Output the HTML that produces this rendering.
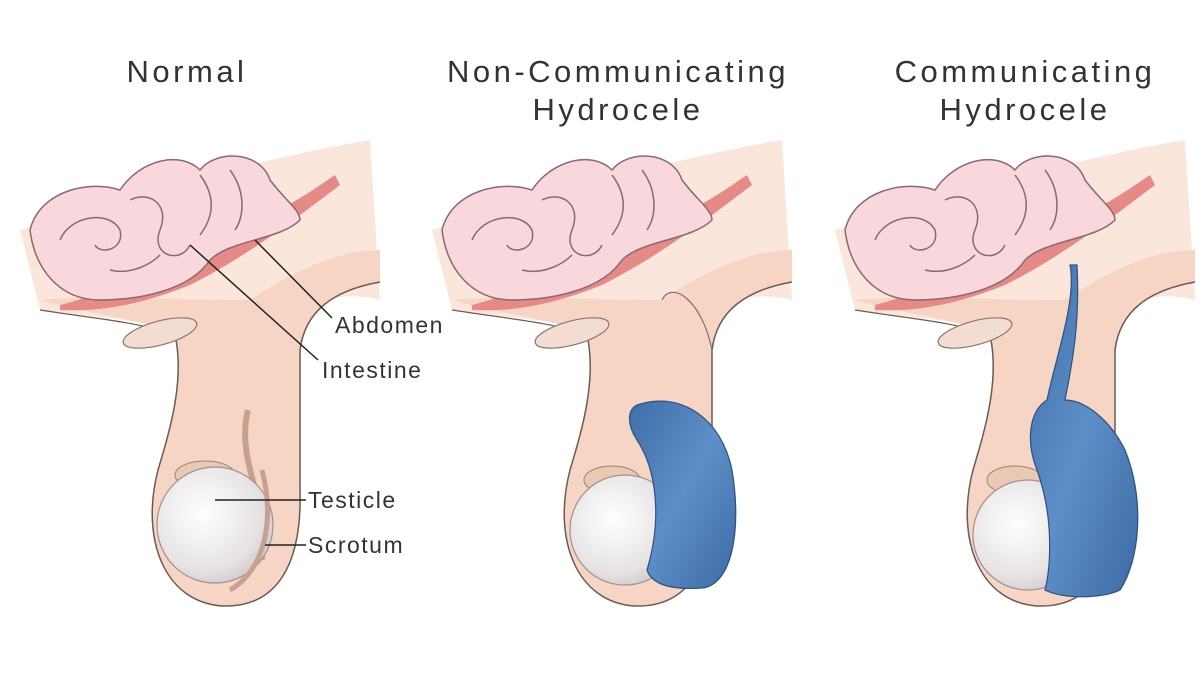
<!DOCTYPE html>
<html><head><meta charset="utf-8"><style>
html,body{margin:0;padding:0;background:#fff;}
svg{display:block;}
text{font-family:"Liberation Sans",sans-serif;fill:#333;}
.t{font-size:31px;letter-spacing:3.5px;}
.l{font-size:23px;letter-spacing:1.5px;}
</style></head><body>
<svg width="1200" height="688" viewBox="0 0 1200 688" xmlns="http://www.w3.org/2000/svg">
<defs>
<radialGradient id="tes" cx="0.4" cy="0.4" r="0.7"><stop offset="0" stop-color="#ffffff"/><stop offset="0.7" stop-color="#e6e2e4"/><stop offset="1" stop-color="#c9c3c6"/></radialGradient>
<linearGradient id="blue" x1="0" y1="0" x2="1" y2="1"><stop offset="0" stop-color="#3f6ea8"/><stop offset="0.5" stop-color="#5e8fc8"/><stop offset="1" stop-color="#3d6aa3"/></linearGradient>
<g id="base">
  <path d="M20,230 C120,200 250,160 370,140 L380,300 C340,290 300,300 290,340 L40,310 Z" fill="#fbe6dc"/>
  <path d="M40,300 C90,315 150,320 175,335 C185,380 170,430 158,470 C140,540 165,602 222,606 C280,608 302,560 300,490 L300,350 C305,310 335,290 380,282 L380,250 C330,250 280,280 250,300 C180,300 100,295 40,300 Z" fill="#f6d5c4"/>
  <path d="M175,335 C185,380 170,430 158,470 C140,540 165,602 222,606 C280,608 302,560 300,490 L300,350 C305,310 335,290 380,282" fill="none" stroke="#6b5a55" stroke-width="1.5"/>
  <path d="M40,310 C90,318 140,322 175,335" fill="none" stroke="#6b5a55" stroke-width="1.2"/>
  <path d="M60,305 C120,290 200,250 260,220 C300,200 320,185 335,175 L340,185 C300,215 250,255 190,285 C140,305 100,312 60,310 Z" fill="#e58a85"/>
  <g fill="#f8d8dc" stroke="#8a6a70" stroke-width="1.5">
    <path d="M30,230 C40,190 90,180 120,190 C140,160 180,150 200,170 C215,150 260,150 270,180 C285,200 300,210 300,220 C280,240 230,240 210,260 C190,290 140,300 100,300 C60,300 35,270 30,230 Z"/>
  </g>
  <g fill="none" stroke="#8a6a70" stroke-width="1.5">
    <path d="M60,240 C70,215 110,210 120,230 C125,250 100,255 95,245"/>
    <path d="M130,200 C150,190 170,205 160,230 C150,255 180,265 190,245"/>
    <path d="M200,175 C215,195 215,215 200,235"/>
    <path d="M230,170 C245,190 245,215 235,230"/>
    <path d="M110,270 C130,275 150,265 160,255"/>
  </g>
  <ellipse cx="160" cy="333" rx="38" ry="12" transform="rotate(-15 160 333)" fill="#f3dcd0" stroke="#8a7570" stroke-width="1.2"/>
</g>
</defs>

<text class="t" x="187" y="82" text-anchor="middle">Normal</text>
<text class="t" x="618" y="82" text-anchor="middle">Non-Communicating</text>
<text class="t" x="618" y="120" text-anchor="middle">Hydrocele</text>
<text class="t" x="1025" y="82" text-anchor="middle">Communicating</text>
<text class="t" x="1025" y="120" text-anchor="middle">Hydrocele</text>

<use href="#base"/>
<path d="M248,410 C240,440 250,470 258,500 L262,560" fill="none" stroke="#c8a090" stroke-width="6"/>
<ellipse cx="205" cy="475" rx="30" ry="14" fill="#e9c8b4" stroke="#a08070"/>
<circle cx="215" cy="525" r="58" fill="url(#tes)" stroke="#a09090" stroke-width="1.2"/>
<path d="M262,470 C275,520 265,570 230,590" fill="none" stroke="#c8a090" stroke-width="5"/>
<g stroke="#222" stroke-width="1.5">
<line x1="190" y1="245" x2="318" y2="360"/>
<line x1="255" y1="240" x2="332" y2="318"/>
<line x1="215" y1="500" x2="306" y2="500"/>
<line x1="265" y1="545" x2="306" y2="545"/>
</g>
<text class="l" x="335" y="333">Abdomen</text>
<text class="l" x="322" y="378">Intestine</text>
<text class="l" x="308" y="508">Testicle</text>
<text class="l" x="308" y="553">Scrotum</text>

<g transform="translate(412,0)">
<use href="#base"/>
<path d="M300,350 C290,300 260,280 250,300" fill="none" stroke="#8a6a70" stroke-width="1.2"/>
<ellipse cx="200" cy="480" rx="28" ry="14" fill="#e9c8b4" stroke="#a08070"/>
<circle cx="213" cy="530" r="55" fill="url(#tes)" stroke="#a09090" stroke-width="1.2"/>
<path d="M225,405 C270,390 310,420 320,470 C330,530 320,585 290,588 C260,590 240,585 235,570 C250,520 245,470 225,440 C215,425 215,410 225,405 Z" fill="url(#blue)" stroke="#2e5080" stroke-width="1.2"/>
</g>

<g transform="translate(815,0)">
<use href="#base"/>
<ellipse cx="200" cy="480" rx="28" ry="14" fill="#e9c8b4" stroke="#a08070"/>
<circle cx="213" cy="535" r="55" fill="url(#tes)" stroke="#a09090" stroke-width="1.2"/>
<path d="M255,265 C262,300 240,360 232,400 C215,410 210,440 222,470 C240,520 235,570 230,590 C250,600 290,598 305,590 C325,560 330,500 310,450 C295,420 270,400 250,400 C258,360 265,320 262,265 Z" fill="url(#blue)" stroke="#2e5080" stroke-width="1.2"/>
</g>
</svg>
</body></html>
